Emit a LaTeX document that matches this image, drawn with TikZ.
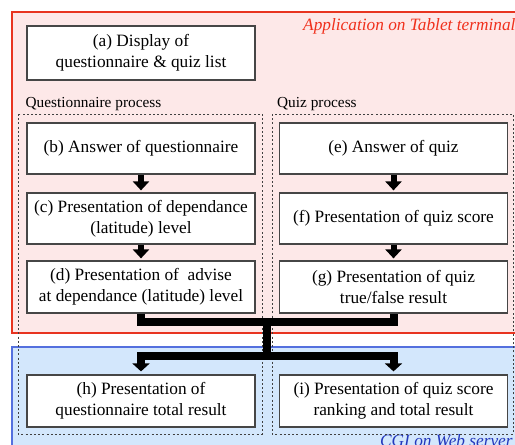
\documentclass[tikz,border=0pt]{standalone}
\usepackage{fontspec}
\setmainfont{Liberation Serif}
\usetikzlibrary{arrows.meta}

\definecolor{appfill}{RGB}{253,232,232}
\definecolor{appline}{RGB}{232,52,32}
\definecolor{apptext}{RGB}{240,48,28}
\definecolor{webfill}{RGB}{211,231,252}
\definecolor{webline}{RGB}{84,112,222}
\definecolor{webtext}{RGB}{36,56,188}
\definecolor{boxline}{RGB}{70,70,70}

\begin{document}
\begin{tikzpicture}[x=1pt,y=-1pt,
  proc/.style={draw=boxline, line width=1.2pt, fill=white,
    minimum width=228pt, minimum height=51pt, inner sep=0pt,
    align=center, font=\fontsize{17.3}{21}\selectfont},
  grouplabel/.style={inner sep=0pt, anchor=base west,
    font=\fontsize{15.3}{18}\selectfont},
  regiontitle/.style={inner sep=0pt, anchor=base west,
    font=\fontsize{17.3}{21}\selectfont\itshape},
  groupbox/.style={draw=black!75, line width=0.9pt,
    dash pattern=on 2pt off 2.2pt},
  smallarrow/.style={line width=6pt, shorten >=2pt,
    -{Triangle[width=16pt,length=9pt]}},
  bigline/.style={line width=8pt, line join=miter},
  bigarrow/.style={bigline, shorten >=3pt,
    -{Triangle[width=17pt,length=8pt]}}
]
\useasboundingbox (0,0) rectangle (515,445);
\clip (0,0) rectangle (515,445);

% tablet application and web server regions
\draw[fill=appfill, draw=appline, line width=1.2pt] (12,12) rectangle (530,333);
\draw[fill=webfill, draw=webline, line width=1.2pt] (12,347) rectangle (530,460);
\node[regiontitle, text=apptext] (apptitle) at (303,30) {Application on Tablet terminal};
\node[regiontitle, text=webtext] (webtitle) at (380,446.5) {CGI on Web server};

% process groups
\draw[groupbox] (18,114) rectangle (262,434);
\draw[groupbox] (272,114) rectangle (513,434);
\node[grouplabel] (qlabel) at (25.5,107) {Questionnaire process};
\node[grouplabel] (zlabel) at (277,107) {Quiz process};

% steps
\node[proc, minimum height=54pt] (a) at (141,53) {(a) Display of\\questionnaire \& quiz list};
\node[proc] (b) at (141,148.5) {(b) Answer of questionnaire};
\node[proc] (c) at (141,218.5) {(c) Presentation of dependance\\(latitude) level};
\node[proc, minimum height=52pt] (d) at (141,287) {(d) Presentation of\ \ advise\\at dependance (latitude) level};
\node[proc] (e) at (393.5,148.5) {(e) Answer of quiz};
\node[proc] (f) at (393.5,218.5) {(f) Presentation of quiz score};
\node[proc, minimum height=52pt] (g) at (393.5,287) {(g) Presentation of quiz\\true/false result};
\node[proc, minimum height=52pt] (h) at (141,401) {(h) Presentation of\\questionnaire total result};
\node[proc, minimum height=52pt] (i) at (393.5,401) {(i) Presentation of quiz score\\ranking and total result};

% flow inside each group
\draw[smallarrow] (b) -- (c);
\draw[smallarrow] (c) -- (d);
\draw[smallarrow] (e) -- (f);
\draw[smallarrow] (f) -- (g);

% merge towards the web server and split to the results
\coordinate (join) at (267,322);
\coordinate (split) at (267,356);
\draw[bigline] (d.south) |- (join) -| (g.south);
\draw[bigline] (join) -- (split);
\draw[bigarrow] (split) -| (h.north);
\draw[bigarrow] (split) -| (i.north);
\end{tikzpicture}
\end{document}
